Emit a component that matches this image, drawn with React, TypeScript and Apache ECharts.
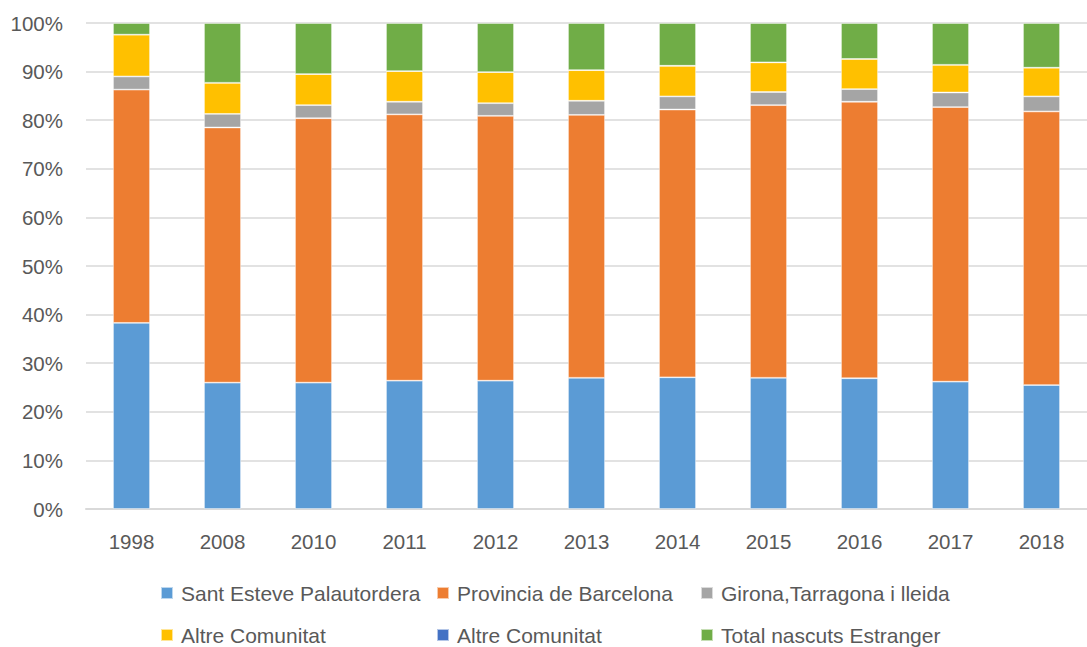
import React, { useEffect, useRef } from "react";
import * as echarts from "echarts";

const years = ["1998", "2008", "2010", "2011", "2012", "2013", "2014", "2015", "2016", "2017", "2018"];
const santEsteve = [38.3, 26.0, 26.0, 26.4, 26.4, 27.0, 27.1, 27.0, 26.9, 26.2, 25.5];
const provBarcelona = [48.0, 52.5, 54.4, 54.8, 54.5, 54.1, 55.1, 56.1, 56.9, 56.5, 56.3];
const gironaTarragona = [2.7, 2.8, 2.7, 2.6, 2.6, 2.9, 2.7, 2.7, 2.6, 3.0, 3.1];
const altreComunitat = [8.6, 6.4, 6.4, 6.3, 6.4, 6.3, 6.3, 6.1, 6.2, 5.7, 5.9];
const altreComunitat2 = [0, 0, 0, 0, 0, 0, 0, 0, 0, 0, 0];
const estranger = [2.4, 12.3, 10.5, 9.9, 10.1, 9.7, 8.8, 8.1, 7.4, 8.6, 9.2];
const yTicks = [0, 10, 20, 30, 40, 50, 60, 70, 80, 90, 100];

const FONT = "Liberation Sans";
const TXT = "#595959";

export default function App() {
  const ref = useRef<HTMLDivElement>(null);
  useEffect(() => {
    document.body.style.margin = "0";
    const chart = echarts.init(ref.current!, undefined, { renderer: "svg" });
    const mk = (name: string, data: number[], color: string) => ({
      name,
      type: "bar",
      stack: "total",
      data,
      barWidth: 37,
      itemStyle: { color, borderColor: "rgba(255,255,255,0.6)", borderWidth: 0.8 },
    });
    const leg = (name: string, color: string, left: number, top: number) => ({
      left,
      top,
      itemWidth: 12,
      itemHeight: 12,
      icon: "rect",
      selectedMode: false,
      padding: 0,
      textStyle: { fontFamily: FONT, fontSize: 21, color: TXT, lineHeight: 22, padding: [0, 0, 0, 3] },
      data: [{ name, itemStyle: { color } }],
    });
    chart.setOption({
      animation: false,
      textStyle: { fontFamily: FONT },
      grid: { left: 86, top: 23, width: 1012, height: 486 },
      xAxis: {
        type: "category",
        data: years,
        axisLine: { lineStyle: { color: "#d9d9d9", width: 2 } },
        axisTick: { show: false },
        axisLabel: { color: TXT, fontSize: 20.5, fontFamily: FONT, margin: 22 },
      },
      yAxis: {
        type: "value",
        min: yTicks[0],
        max: yTicks[yTicks.length - 1],
        interval: 10,
        axisLine: { show: false },
        axisTick: { show: false },
        splitLine: { lineStyle: { color: "#d9d9d9", width: 1.5 } },
        axisLabel: { color: TXT, fontSize: 20.5, fontFamily: FONT, margin: 23, formatter: "{value}%" },
      },
      legend: [
        leg("Sant Esteve Palautordera", "#5B9BD5", 160, 582),
        leg("Provincia de Barcelona", "#ED7D31", 436, 582),
        leg("Girona,Tarragona i lleida", "#A5A5A5", 700, 582),
        leg("Altre Comunitat", "#FFC000", 160, 624),
        leg("Altre Comunitat", "#4472C4", 436, 624),
        leg("Total nascuts Estranger", "#70AD47", 700, 624),
      ],
      series: [
        mk("Sant Esteve Palautordera", santEsteve, "#5B9BD5"),
        mk("Provincia de Barcelona", provBarcelona, "#ED7D31"),
        mk("Girona,Tarragona i lleida", gironaTarragona, "#A5A5A5"),
        mk("Altre Comunitat", altreComunitat, "#FFC000"),
        mk("Altre Comunitat", altreComunitat2, "#4472C4"),
        mk("Total nascuts Estranger", estranger, "#70AD47"),
      ],
    });
    return () => chart.dispose();
  }, []);
  return <div ref={ref} style={{ width: 1087, height: 647 }} />;
}
